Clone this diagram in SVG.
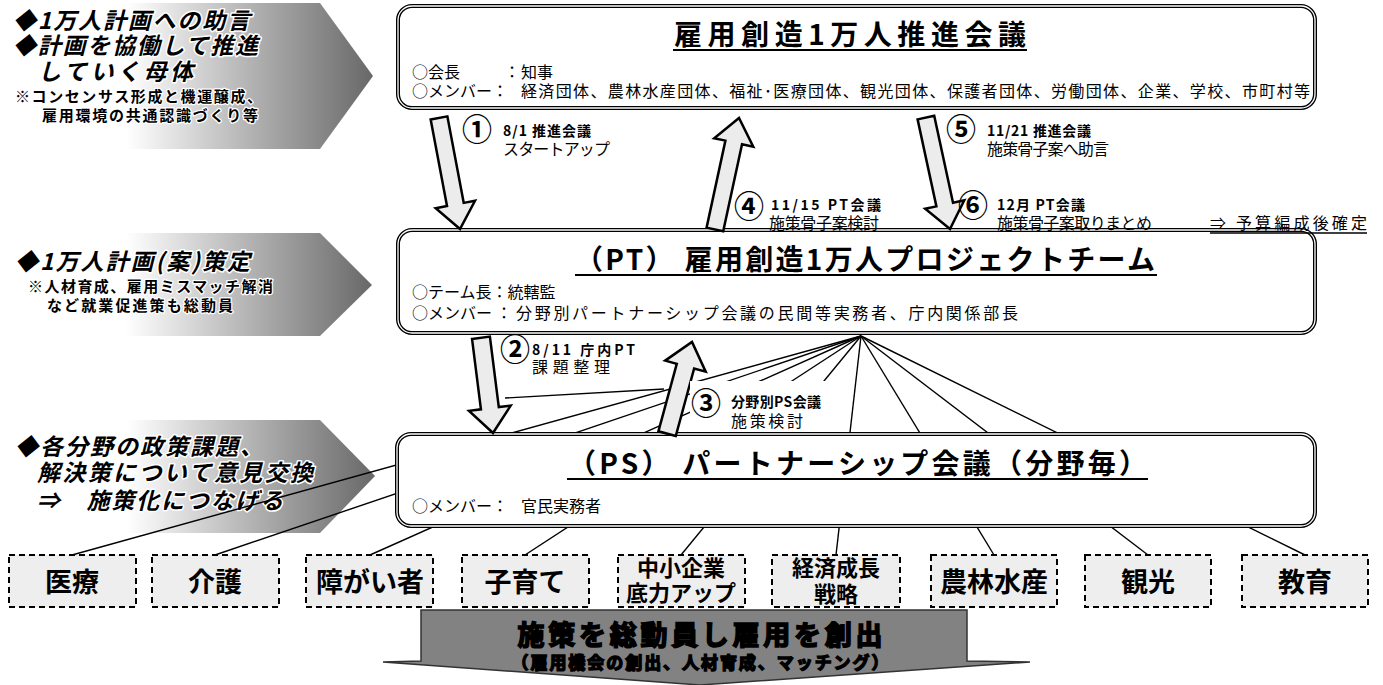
<svg xmlns="http://www.w3.org/2000/svg" width="1383" height="685" viewBox="0 0 1383 685">
<defs>
<linearGradient id="pg" x1="0" y1="0" x2="1" y2="0">
<stop offset="0" stop-color="#ffffff"/>
<stop offset="0.32" stop-color="#ffffff"/>
<stop offset="0.62" stop-color="#bcbcbc"/>
<stop offset="1" stop-color="#686868"/>
</linearGradient>
<style>
.jp{font-family:"Noto Sans CJK JP","Noto Sans CJK SC",sans-serif;fill:#000;}
.bo{fill:#fff;stroke:#000;stroke-width:4;}
.bi{fill:none;stroke:#fff;stroke-width:1.3;}
.ttl{font-size:28px;font-weight:700;}
.mem{font-size:16px;}
.pt{font-size:23px;font-weight:700;font-style:italic;stroke:#fff;stroke-width:3;paint-order:stroke;stroke-linejoin:round;}
.ps{font-size:15px;font-weight:700;stroke:#fff;stroke-width:2.5;paint-order:stroke;stroke-linejoin:round;}
.arr{fill:#ececec;stroke:#000;stroke-width:2.5;stroke-linejoin:miter;}
.num{font-size:30px;font-weight:700;text-anchor:middle;}
.lb{font-size:14px;font-weight:700;}
.lt{font-size:16px;}
.fan{stroke:#000;stroke-width:1.4;fill:none;}
.cat{fill:#eeeeee;stroke:#000;stroke-width:2;stroke-dasharray:6 4;}
.ct{font-size:27px;font-weight:700;text-anchor:middle;}
.ct2{font-size:22px;font-weight:700;text-anchor:middle;}
.ul{stroke:#000;stroke-width:2;}
</style>
</defs>
<rect width="1383" height="685" fill="#fff"/>

<g id="pent1">
<polygon points="10,3 320,3 373,76 320,149 10,149" fill="url(#pg)"/>
<text class="jp pt" x="13" y="29" textLength="237">◆1万人計画への助言</text>
<text class="jp pt" x="13" y="54" textLength="245">◆計画を協働して推進</text>
<text class="jp pt" x="38" y="80" textLength="155">していく母体</text>
<text class="jp ps" x="15" y="102" textLength="247">※コンセンサス形成と機運醸成、</text>
<text class="jp ps" x="42" y="121" textLength="216">雇用環境の共通認識づくり等</text>
</g>
<g id="pent2">
<polygon points="10,233 320,233 372,285 320,336 10,336" fill="url(#pg)"/>
<text class="jp pt" x="15" y="270" textLength="235">◆1万人計画(案)策定</text>
<text class="jp ps" x="28" y="292" textLength="245">※人材育成、雇用ミスマッチ解消</text>
<text class="jp ps" x="47" y="311" textLength="186">など就業促進策も総動員</text>
</g>
<g id="pent3">
<polygon points="10,420 320,420 375,476 320,533 10,533" fill="url(#pg)"/>
<text class="jp pt" x="15" y="455" textLength="248">◆各分野の政策課題、</text>
<text class="jp pt" x="37" y="481" textLength="276">解決策について意見交換</text>
<text class="jp pt" x="37" y="509" textLength="246">⇒　施策化につなげる</text>
</g>

<g id="connectors">
<line class="fan" x1="861" y1="336" x2="72" y2="555"/>
<line class="fan" x1="861" y1="336" x2="215" y2="555"/>
<line class="fan" x1="861" y1="336" x2="370" y2="555"/>
<line class="fan" x1="861" y1="336" x2="525" y2="555"/>
<line class="fan" x1="861" y1="336" x2="681" y2="555"/>
<line class="fan" x1="861" y1="336" x2="836" y2="555"/>
<line class="fan" x1="861" y1="336" x2="994" y2="555"/>
<line class="fan" x1="861" y1="336" x2="1148" y2="555"/>
<line class="fan" x1="861" y1="336" x2="1305" y2="555"/>
<line class="fan" x1="505" y1="398" x2="664" y2="389"/>
</g>

<g id="box-top">
<rect class="bo" x="398" y="6" width="917" height="102" rx="14"/>
<rect class="bi" x="398" y="6" width="917" height="102" rx="14"/>
<text class="jp ttl" x="674" y="45" textLength="352">雇用創造1万人推進会議</text>
<line class="ul" x1="673" y1="50" x2="1027" y2="50"/>
<text class="jp mem" y="78"><tspan x="412">○会長</tspan><tspan x="504">：</tspan><tspan x="521">知事</tspan></text>
<text class="jp mem" x="412" y="97">○メンバー：</text>
<text class="jp mem" x="521" y="97" textLength="789">経済団体、農林水産団体、福祉･医療団体、観光団体、保護者団体、労働団体、企業、学校、市町村等</text>
</g>

<g id="box-pt">
<rect class="bo" x="398" y="230" width="917" height="103" rx="14"/>
<rect class="bi" x="398" y="230" width="917" height="103" rx="14"/>
<text class="jp ttl" x="575" y="270" textLength="580">（PT） 雇用創造1万人プロジェクトチーム</text>
<line class="ul" x1="575" y1="275" x2="1157" y2="275"/>
<text class="jp mem" x="412" y="298">○テーム長：統轄監</text>
<text class="jp mem" y="319"><tspan x="412">○メンバー</tspan><tspan x="496">：</tspan></text>
<text class="jp mem" x="516" y="319" textLength="502">分野別パートナーシップ会議の民間等実務者、庁内関係部長</text>
</g>

<g id="box-ps">
<rect class="bo" x="397" y="434" width="918" height="92" rx="14"/>
<rect class="bi" x="397" y="434" width="918" height="92" rx="14"/>
<text class="jp ttl" x="568" y="474" textLength="579">（PS） パートナーシップ会議（分野毎）</text>
<line class="ul" x1="567" y1="479" x2="1148" y2="479"/>
<text class="jp mem" x="412" y="512">○メンバー：</text>
<text class="jp mem" x="521" y="512">官民実務者</text>
</g>

<g id="arrows">
<path class="arr" transform="translate(460,229) rotate(-10.7)" d="M-8.5,-113 L8.5,-113 L8.5,-25 L20,-25 L0,0 L-20,-25 L-8.5,-25 Z"/>
<path class="arr" transform="translate(739,118) rotate(192.2)" d="M-8.5,-114 L8.5,-114 L8.5,-25 L20,-25 L0,0 L-20,-25 L-8.5,-25 Z"/>
<path class="arr" transform="translate(950,229) rotate(-12.2)" d="M-8.5,-114 L8.5,-114 L8.5,-25 L20,-25 L0,0 L-20,-25 L-8.5,-25 Z"/>
<path class="arr" transform="translate(493,433) rotate(-7.2)" d="M-9,-96 L9,-96 L9,-25 L21,-25 L0,0 L-21,-25 L-9,-25 Z"/>
<path class="arr" transform="translate(692,342) rotate(195.2)" d="M-9,-95 L9,-95 L9,-25 L21,-25 L0,0 L-21,-25 L-9,-25 Z"/>
</g>

<g id="label1">
<text class="jp num" x="477" y="140">①</text>
<text class="jp lb" x="503" y="136" textLength="88">8/1 推進会議</text>
<text class="jp lt" x="503" y="155" textLength="107">スタートアップ</text>
</g>
<g id="label4">
<text class="jp num" x="749" y="217">④</text>
<text class="jp lb" x="771" y="210" textLength="110">11/15 PT会議</text>
<text class="jp lt" x="769" y="229" textLength="110">施策骨子案検討</text>
</g>
<g id="label5">
<text class="jp num" x="961" y="140">⑤</text>
<text class="jp lb" x="987" y="136" textLength="104">11/21 推進会議</text>
<text class="jp lt" x="987" y="155" textLength="122">施策骨子案へ助言</text>
</g>
<g id="label6">
<text class="jp num" x="973" y="216">⑥</text>
<text class="jp lb" x="997" y="210" textLength="88">12月 PT会議</text>
<text class="jp lt" x="997" y="229" textLength="155">施策骨子案取りまとめ</text>
<text class="jp lt" x="1210" y="229" textLength="157">⇒ 予算編成後確定</text>
<line x1="1210" y1="233" x2="1367" y2="233" stroke="#000" stroke-width="1.5"/>
</g>
<g id="label2">
<text class="jp num" x="515" y="360">②</text>
<text class="jp lb" x="532" y="355" textLength="103">8/11 庁内PT</text>
<text class="jp lt" x="532" y="373" textLength="78">課題整理</text>
</g>
<g id="label3">
<rect x="690" y="381" width="148" height="51" fill="#fff"/>
<text class="jp num" x="706" y="414">③</text>
<text class="jp lb" x="731" y="407" textLength="90">分野別PS会議</text>
<text class="jp lt" x="731" y="427" textLength="72">施策検討</text>
</g>

<g id="cat-iryo"><rect class="cat" x="9" y="555" width="127" height="52"/><text class="jp ct" x="72" y="592">医療</text></g>
<g id="cat-kaigo"><rect class="cat" x="152" y="555" width="127" height="52"/><text class="jp ct" x="215" y="592">介護</text></g>
<g id="cat-shogai"><rect class="cat" x="306" y="555" width="127" height="52"/><text class="jp ct" x="370" y="592">障がい者</text></g>
<g id="cat-kosodate"><rect class="cat" x="462" y="555" width="127" height="52"/><text class="jp ct" x="525" y="592">子育て</text></g>
<g id="cat-chusho"><rect class="cat" x="618" y="555" width="127" height="52"/><text class="jp ct2" x="681" y="576">中小企業</text><text class="jp ct2" x="681" y="601">底力アップ</text></g>
<g id="cat-keizai"><rect class="cat" x="772" y="555" width="128" height="52"/><text class="jp ct2" x="836" y="576">経済成長</text><text class="jp ct2" x="836" y="602">戦略</text></g>
<g id="cat-norin"><rect class="cat" x="931" y="555" width="126" height="52"/><text class="jp ct" x="994" y="592">農林水産</text></g>
<g id="cat-kanko"><rect class="cat" x="1085" y="555" width="126" height="52"/><text class="jp ct" x="1148" y="592">観光</text></g>
<g id="cat-kyoiku"><rect class="cat" x="1242" y="555" width="126" height="52"/><text class="jp ct" x="1305" y="592">教育</text></g>

<g id="result">
<polygon points="421,610 967,610 967,661 1030,662 700,685 383,662 421,661" fill="#828282" stroke="#333" stroke-width="1.5"/>
<text class="jp" x="700" y="645" text-anchor="middle" font-size="27" font-weight="700" textLength="365" fill="#fff" stroke="#000" stroke-width="1.6" paint-order="stroke">施策を総動員し雇用を創出</text>
<text class="jp" x="700" y="669" text-anchor="middle" font-size="17" font-weight="700" textLength="377" fill="#fff" stroke="#000" stroke-width="1.4" paint-order="stroke">（雇用機会の創出、人材育成、マッチング）</text>
</g>
</svg>
